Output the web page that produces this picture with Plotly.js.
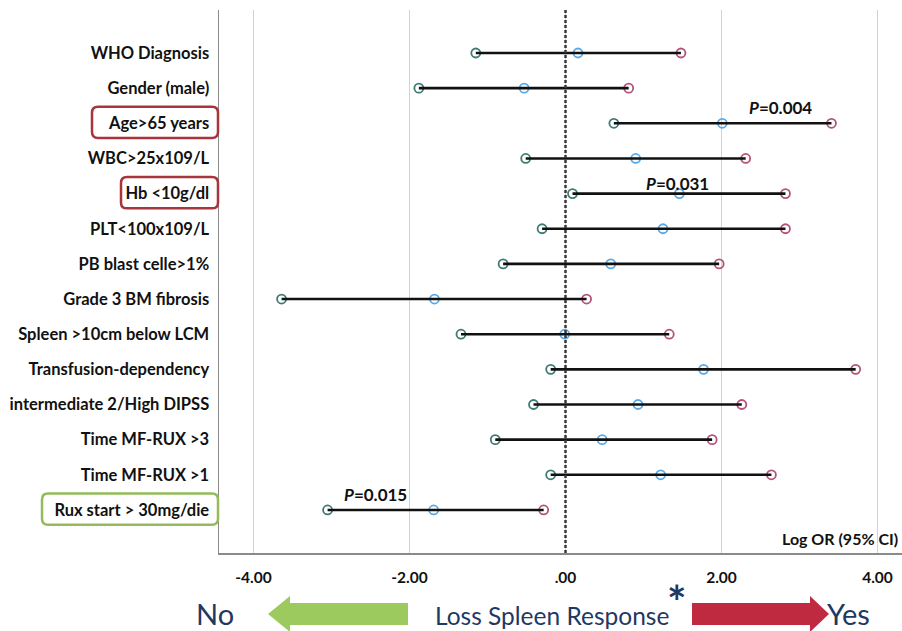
<!DOCTYPE html>
<html>
<head>
<meta charset="utf-8">
<script src="https://cdn.plot.ly/plotly-3.0.1.min.js"></script>
<style>html,body{margin:0;padding:0;background:#fff}#chart{width:902px;height:631px}</style>
</head>
<body>
<div id="chart"></div>
<script>
// ---- data ----
const categories = ["WHO Diagnosis","Gender (male)","Age>65 years","WBC>25x109/L","Hb <10g/dl","PLT<100x109/L","PB blast celle>1%","Grade 3 BM fibrosis","Spleen >10cm below LCM","Transfusion-dependency","intermediate 2/High DIPSS","Time MF-RUX >3","Time MF-RUX >1","Rux start > 30mg/die"];
const ciLow  = [-1.15,-1.88, 0.62,-0.51, 0.09,-0.30,-0.80,-3.64,-1.34,-0.19,-0.41,-0.90,-0.19,-3.05];
const logOR  = [ 0.16,-0.53, 2.01, 0.90, 1.46, 1.25, 0.58,-1.68,-0.01, 1.77, 0.93, 0.47, 1.22,-1.69];
const ciHigh = [ 1.48, 0.81, 3.41, 2.31, 2.82, 2.82, 1.97, 0.27, 1.33, 3.72, 2.26, 1.88, 2.64,-0.28];
const xTickVals = [-4,-2,0,2,4];
const xTickText = ["-4.00","-2.00",".00","2.00","4.00"];
const pRows = [2,4,13];
const pTexts = ["0.004","0.031","0.015"];
const boxedRows = [2,4,13];
const boxColors = ["#a8353c","#a8353c","#94ba5a"];

// ---- geometry helpers ----
const W=902,H=631,ML=219,MR=0,MT=10,MB=78;
const PW=W-ML-MR, PH=H-MT-MB;
const px=x=>(x-ML)/PW;
const py=y=>(H-MB-y)/PH;

const rows = categories.map((_,i)=>i);
const segX=[], segY=[];
rows.forEach(i=>{segX.push(ciLow[i],ciHigh[i],null);segY.push(i,i,null);});

const traces=[
 {x:ciLow,y:rows,mode:'markers',type:'scatter',hoverinfo:'skip',
  marker:{symbol:'circle-open',size:9,line:{width:1.8,color:'#3d7b73'},color:'#3d7b73'}},
 {x:logOR,y:rows,mode:'markers',type:'scatter',hoverinfo:'skip',
  marker:{symbol:'circle-open',size:9,line:{width:1.8,color:'#5aa9e6'},color:'#5aa9e6'}},
 {x:ciHigh,y:rows,mode:'markers',type:'scatter',hoverinfo:'skip',
  marker:{symbol:'circle-open',size:9,line:{width:1.8,color:'#b4527b'},color:'#b4527b'}},
 {x:segX,y:segY,mode:'lines',type:'scatter',hoverinfo:'skip',
  line:{color:'#111',width:2.6}}
];

function roundRectPath(x0,x1,y0,y1,rx,ry){
 return `M${x0+rx},${y0} L${x1-rx},${y0} Q${x1},${y0} ${x1},${y0+ry} L${x1},${y1-ry} Q${x1},${y1} ${x1-rx},${y1} L${x0+rx},${y1} Q${x0},${y1} ${x0},${y1-ry} L${x0},${y0+ry} Q${x0},${y0} ${x0+rx},${y0} Z`;
}
const boxLeftPx=[92,121,42];
const shapes=[
 {type:'line',xref:'x',yref:'paper',x0:0,x1:0,y0:0,y1:1,line:{color:'#3a3a3a',width:2.5,dash:'3px,2px'}}
];
boxedRows.forEach((r,k)=>{
 shapes.push({type:'path',xref:'paper',yref:'y',
  path:roundRectPath(px(boxLeftPx[k]),px(218),r-0.47,r+0.42,6/PW,0.17),
  line:{color:boxColors[k],width:2.5}});
});
function arrowPath(pts){return 'M'+pts.map(p=>px(p[0])+','+py(p[1])).join(' L')+' Z';}
const cy=614;
shapes.push({type:'path',xref:'paper',yref:'paper',fillcolor:'#9cca5e',line:{width:0},
 path:arrowPath([[268,cy],[290,cy-18],[290,cy-11],[408,cy-11],[408,cy+11],[290,cy+11],[290,cy+18]])});
shapes.push({type:'path',xref:'paper',yref:'paper',fillcolor:'#c02a40',line:{width:0},
 path:arrowPath([[829,cy],[810,cy-18],[810,cy-11],[692,cy-11],[692,cy+11],[810,cy+11],[810,cy+18]])});

const pX=[2.75,1.44,-2.43];
const pDy=[-0.45,-0.3,-0.45];
const annotations=pRows.map((r,k)=>({xref:'x',yref:'y',x:pX[k],y:r+pDy[k],
 text:'<b><i>P</i>='+pTexts[k]+'</b>',showarrow:false,font:{family:'Lato',size:17,color:'#111'}}));
annotations.push({xref:'paper',yref:'paper',x:px(900),y:py(538),xanchor:'right',yanchor:'middle',
 text:'<b>Log OR (95% CI)</b>',showarrow:false,font:{family:'Lato',size:16,color:'#111'}});
const navy='#1f3864';
annotations.push({xref:'paper',yref:'paper',x:px(215),y:py(613),xanchor:'center',yanchor:'middle',
 text:'No',showarrow:false,font:{family:'Lato',size:29,color:navy}});
annotations.push({xref:'paper',yref:'paper',x:px(552),y:py(615),xanchor:'center',yanchor:'middle',
 text:'Loss Spleen Response',showarrow:false,font:{family:'Lato',size:24.5,color:navy}});
annotations.push({xref:'paper',yref:'paper',x:px(677),y:py(601),xanchor:'center',yanchor:'middle',
 text:'<b>*</b>',showarrow:false,font:{family:'Lato',size:46,color:navy}});
annotations.push({xref:'paper',yref:'paper',x:px(848),y:py(613),xanchor:'center',yanchor:'middle',
 text:'Yes',showarrow:false,font:{family:'Lato',size:29,color:navy}});

const layout={
 width:W,height:H,margin:{l:ML,r:MR,t:MT,b:MB,pad:0},
 paper_bgcolor:'#fff',plot_bgcolor:'#fff',showlegend:false,
 xaxis:{range:[(ML-565.5)/78,(W-565.5)/78],tickvals:xTickVals,ticktext:xTickText,
  showgrid:true,gridcolor:'#d2d2d2',gridwidth:1.5,zeroline:false,showline:true,linecolor:'#8a8a8a',linewidth:1.5,
  ticks:'',ticklabelstandoff:10,tickfont:{family:'Lato',size:15.5,weight:'bold',color:'#111'},fixedrange:true},
 yaxis:{range:[(H-MB-53)/35.15,-(53-MT)/35.15],tickvals:rows,ticktext:categories,
  showgrid:false,zeroline:false,showline:true,linecolor:'#8a8a8a',linewidth:1.5,ticks:'',
  ticklabelstandoff:5,tickfont:{family:'Lato',size:16.5,weight:'bold',color:'#111'},fixedrange:true},
 shapes:shapes,annotations:annotations
};
Plotly.newPlot('chart',traces,layout,{staticPlot:true,displayModeBar:false});
</script>
</body>
</html>
